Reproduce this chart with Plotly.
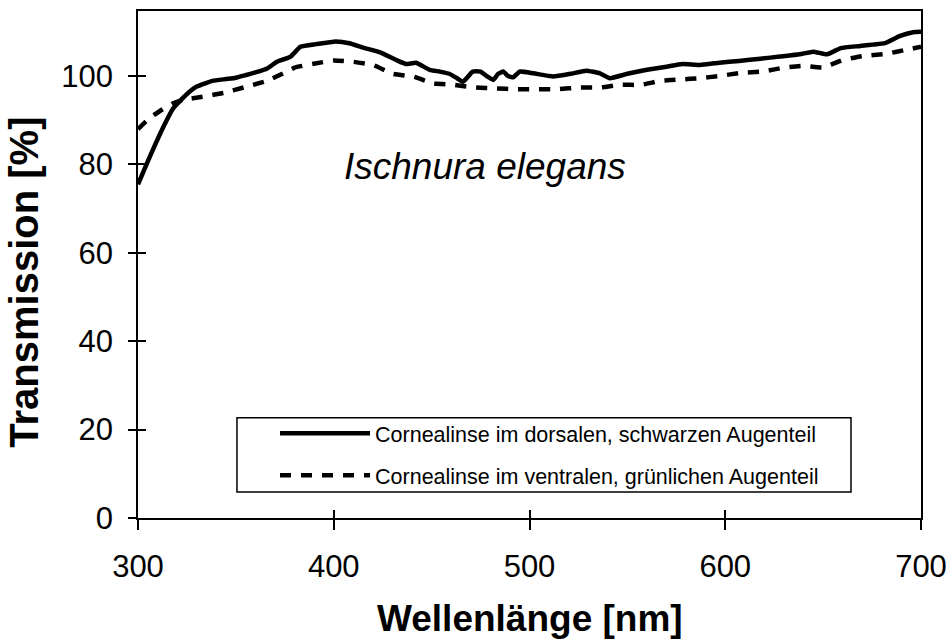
import plotly.graph_objects as go

# Wavelength (nm) and transmission (%)
wl_dorsal = [300, 306, 313, 318, 322, 326, 330, 338, 345, 350, 355, 360, 366, 371, 378, 383, 391, 401,
             408, 415, 424, 432, 437, 442, 449, 454, 459, 463, 466, 471, 475, 478, 481.5, 484, 486.6,
             489, 491.7, 495, 502, 512, 521, 529, 536, 541, 550, 560, 570, 578, 587, 597, 607, 618,
             628, 638, 645, 652, 659, 669, 682, 689, 696, 700]
tr_dorsal = [75.5, 81.7, 88.5, 92.7, 94.6, 96.3, 97.6, 98.9, 99.3, 99.6, 100.2, 100.8, 101.7, 103.2,
             104.4, 106.6, 107.2, 107.8, 107.4, 106.4, 105.3, 103.6, 102.7, 103.0, 101.4, 101.0, 100.5,
             99.5, 98.7, 101.0, 101.0, 100.0, 99.1, 100.5, 101.0, 100.0, 99.7, 101.0, 100.6, 99.9,
             100.5, 101.2, 100.6, 99.5, 100.5, 101.4, 102.1, 102.7, 102.5, 103.0, 103.4, 103.9, 104.4,
             104.9, 105.5, 104.9, 106.3, 106.8, 107.5, 109.0, 109.9, 110.0]

wl_ventral = [300, 306, 312, 318, 323, 333, 344, 354, 366, 376, 380, 389, 400, 410, 420, 430, 441, 451,
              461, 472, 483, 493, 502, 514, 526, 536, 546, 557, 567, 577, 587, 597, 608, 619, 630, 640,
              650, 660, 670, 682, 692, 700]
tr_ventral = [88.0, 90.5, 92.3, 93.8, 94.6, 95.3, 96.2, 97.4, 98.9, 101.0, 101.9, 102.7, 103.5, 103.2,
              102.5, 100.5, 99.8, 98.3, 98.0, 97.4, 97.2, 97.0, 97.0, 97.0, 97.4, 97.4, 98.0, 98.0,
              98.9, 99.2, 99.5, 100.0, 100.7, 101.0, 101.9, 102.3, 101.9, 103.6, 104.5, 105.0, 105.9,
              106.6]

x_ticks = [300, 400, 500, 600, 700]
y_ticks = [0, 20, 40, 60, 80, 100]
name_dorsal = "Cornealinse im dorsalen, schwarzen Augenteil"
name_ventral = "Cornealinse im ventralen, grünlichen Augenteil"
species = "Ischnura elegans"
x_title = "Wellenlänge [nm]"
y_title = "Transmission [%]"

FONT = "Liberation Sans, Arial, sans-serif"
X_RANGE = [300, 700]
Y_RANGE = [0, 114.7]

fig = go.Figure()
fig.add_trace(go.Scatter(x=wl_dorsal, y=tr_dorsal, mode="lines", name=name_dorsal,
                         legendgroup="a",
                         line=dict(color="black", width=4.5, shape="spline", smoothing=0.4)))
fig.add_trace(go.Scatter(x=wl_ventral, y=tr_ventral, mode="lines", name=name_ventral,
                         legendgroup="b", xaxis="x2", yaxis="y2",
                         line=dict(color="black", width=4.5, dash="11px,10px", shape="spline",
                                   smoothing=0.4)))

fig.add_annotation(text=species, xref="paper", yref="paper", x=0.443, y=0.694,
                   xanchor="center", yanchor="middle",
                   showarrow=False, font=dict(family=FONT, size=37, style="italic", color="black"))
# axis titles
fig.add_annotation(text=x_title, xref="paper", yref="paper", x=0.5, y=-0.199,
                   xanchor="center", yanchor="middle", showarrow=False,
                   font=dict(family=FONT, size=37, weight="bold", color="black"))
fig.add_annotation(text=y_title, xref="paper", yref="paper", x=-0.145, y=0.465,
                   xanchor="center", yanchor="middle", textangle=-90, showarrow=False,
                   font=dict(family=FONT, size=40, weight="bold", color="black"))

# legend frame
fig.add_shape(type="rect", xref="paper", yref="paper", x0=0.1264, x1=0.9106, y0=0.0514, y1=0.1976,
              line=dict(color="black", width=1.5), fillcolor="white", layer="below")

axis_common = dict(showgrid=False, zeroline=False, color="black", automargin=False)
fig.update_layout(
    width=951, height=642,
    margin=dict(l=138, r=30, t=11, b=124),
    paper_bgcolor="white", plot_bgcolor="white",
    font=dict(family=FONT, color="black"),
    xaxis=dict(range=X_RANGE, tickvals=x_ticks, ticks="outside", ticklen=10, tickwidth=1.5,
               showline=True, linewidth=1.5, linecolor="black", mirror=True,
               tickfont=dict(size=31), ticklabelstandoff=10, **axis_common),
    yaxis=dict(range=Y_RANGE, tickvals=y_ticks, ticks="outside", ticklen=8, tickwidth=1.5,
               showline=True, linewidth=1.5, linecolor="black", mirror=True,
               tickfont=dict(size=31), ticklabelstandoff=9, **axis_common),
    xaxis2=dict(range=X_RANGE, tickvals=x_ticks, ticks="inside", ticklen=8, tickwidth=1.5,
                overlaying="x", anchor="y2", showticklabels=False, showline=False, **axis_common),
    yaxis2=dict(range=Y_RANGE, tickvals=y_ticks, ticks="inside", ticklen=8, tickwidth=1.5,
                overlaying="y", anchor="x2", showticklabels=False, showline=False, **axis_common),
    legend=dict(x=0.175, y=0.2075, xanchor="left", yanchor="top",
                borderwidth=0, bgcolor="rgba(0,0,0,0)",
                font=dict(size=21.5, family=FONT), itemwidth=90, tracegroupgap=11,
                traceorder="grouped"),
    showlegend=True,
)

fig.write_html("out.html", post_script="document.body.style.margin='0';",
               config={"displayModeBar": False})
